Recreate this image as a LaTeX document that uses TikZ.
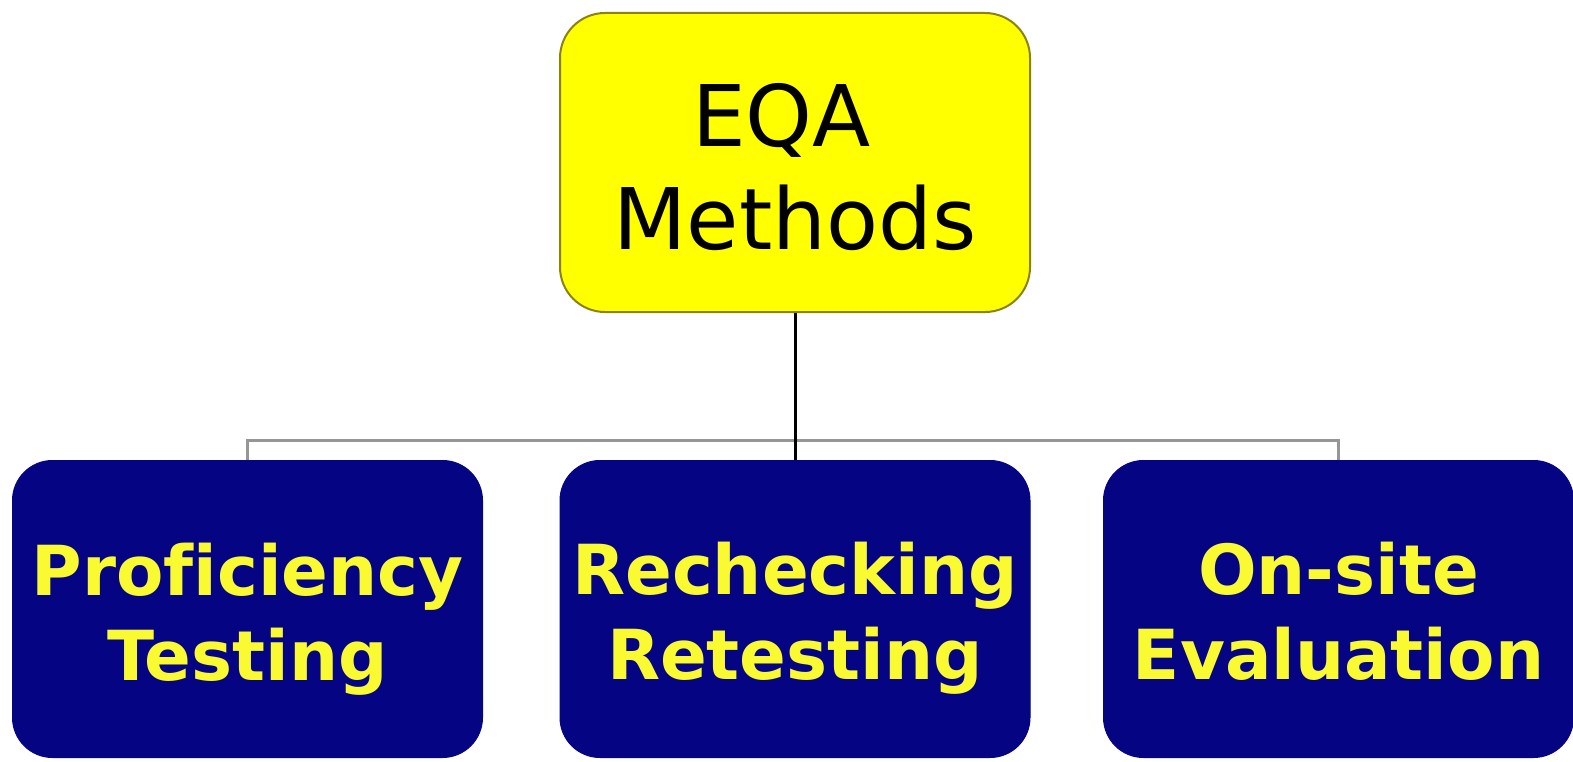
\documentclass[tikz,border=0pt]{standalone}
\usepackage{fontspec}
\setmainfont{DejaVu Sans}[Ligatures=NoCommon]
\definecolor{eqayellow}{RGB}{255,255,0}
\definecolor{eqaborder}{RGB}{140,130,20}
\definecolor{eqanavy}{RGB}{5,5,132}
\definecolor{eqatext}{RGB}{250,250,50}
\definecolor{eqagray}{RGB}{150,150,150}
\newcommand{\eqaph}{\vphantom{Pfg}}
\begin{document}
\begin{tikzpicture}[x=1pt,y=-1pt,
  topbox/.style={draw=eqaborder, line width=2pt, fill=eqayellow, rounded corners=45pt, minimum width=470pt, minimum height=299pt, inner sep=0pt},
  leafbox/.style={draw=eqanavy, line width=1pt, fill=eqanavy, rounded corners=40pt, minimum width=470pt, minimum height=297pt, inner sep=0pt},
  toptext/.style={font=\fontsize{85}{103}\selectfont, align=center, text=black, inner sep=0pt},
  leaftext/.style={font=\fontsize{69}{85}\selectfont\bfseries, align=center, text=eqatext, inner sep=0pt},
  link/.style={line width=3pt, draw=black},
  branch/.style={line width=3pt, draw=eqagray}]
\useasboundingbox[fill=white] (0,0) rectangle (1573,762);
\node[topbox] (top) at (795,162.5) {};
\node[leafbox] (b1) at (247.5,609) {};
\node[leafbox] (b2) at (795,609) {};
\node[leafbox] (b3) at (1338.5,609) {};
\node[toptext] (t0) at (795,167) {EQA\hspace*{27pt}\\Methods};
\node[leaftext] (t1) at (247.5,619) {\eqaph Proficiency\\\eqaph Testing};
\node[leaftext] (t2) at (795,618) {\eqaph Rechecking\\\eqaph Retesting};
\node[leaftext] (t3) at (1338.5,618) {\eqaph On-site\\\eqaph Evaluation};
\coordinate (bar) at (795,440);
\draw[branch] (b1.north) -- (b1.north |- bar) -- (b3.north |- bar) -- (b3.north);
\draw[link] (top.south) -- (b2.north);
\end{tikzpicture}
\end{document}
